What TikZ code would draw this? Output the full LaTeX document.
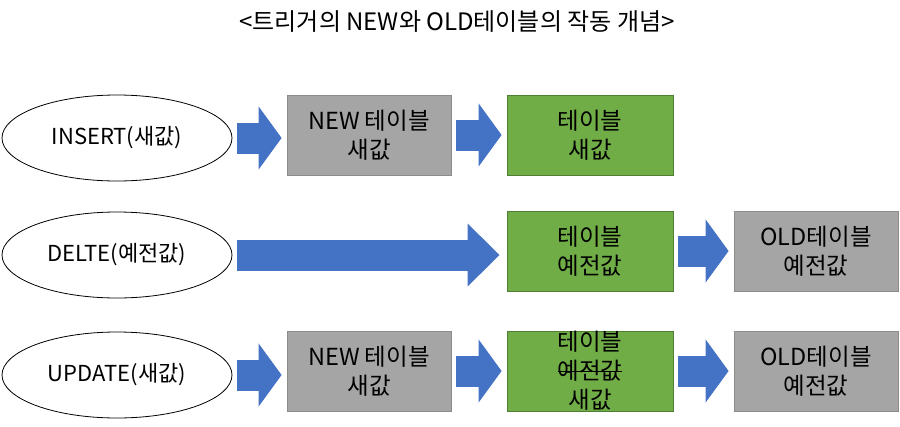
\documentclass[tikz,border=0pt]{standalone}
\usepackage{fontspec}
\setmainfont{Noto Sans CJK KR}
\usetikzlibrary{arrows.meta,shapes.geometric}
\definecolor{boxgray}{HTML}{A5A5A5}
\definecolor{linegray}{HTML}{8C8C8C}
\definecolor{boxgreen}{HTML}{70AD47}
\definecolor{linegreen}{HTML}{507E32}
\definecolor{arrowblue}{HTML}{4472C4}
\newcommand{\strikeword}[1]{\setbox0\hbox{#1}\rlap{\rule[0.32em]{\wd0}{0.9pt}}\box0}
\begin{document}
\begin{tikzpicture}[x=1pt, y={(0pt,-1pt)},
    event/.style={ellipse, draw=black, fill=white, thick, minimum width=230pt, minimum height=86pt, inner sep=0pt,
        font=\fontsize{22}{29}\selectfont},
    oldnew/.style={rectangle, draw=linegray, fill=boxgray, thick, minimum width=164pt, minimum height=80pt,
        inner sep=0pt, align=center, font=\fontsize{23.5}{29}\selectfont},
    table/.style={rectangle, draw=linegreen, fill=boxgreen, thick, minimum width=166pt, minimum height=80pt,
        inner sep=0pt, align=center, font=\fontsize{23.5}{29}\selectfont},
    blockarrow/.style={arrowblue, line width=31pt, shorten <=5pt, shorten >=5pt,
        -{Triangle[length=23pt, width=62pt]}}]
    \useasboundingbox (0, 0) rectangle (900, 426);
    \node[font=\fontsize{24}{28}\selectfont] (title) at (457, 22) {<트리거의 NEW와 OLD테이블의 작동 개념>};

    % INSERT
    \node[event] (ins) at (117, 138) {INSERT(새값)};
    \node[oldnew] (newA) at (369, 135) {NEW 테이블\\새값};
    \node[table] (tblA) at (590, 135) {테이블\\새값};
    \draw[blockarrow] (ins.east) -- (ins.east -| newA.west);
    \draw[blockarrow] (newA) -- (tblA);

    % DELETE
    \node[event] (del) at (117, 255) {DELTE(예전값)};
    \node[table] (tblB) at (590, 251) {테이블\\예전값};
    \node[oldnew] (oldB) at (816, 251) {OLD테이블\\예전값};
    \draw[blockarrow, shorten >=7pt, -{Triangle[length=32pt, width=61pt]}] (del.east) -- (del.east -| tblB.west);
    \draw[blockarrow] (tblB) -- (oldB);

    % UPDATE
    \node[event] (upd) at (117, 375) {UPDATE(새값)};
    \node[oldnew] (newC) at (369, 371) {NEW 테이블\\새값};
    \node[table] (tblC) at (590, 371) {테이블\\\strikeword{예전값}\\새값};
    \node[oldnew] (oldC) at (816, 371) {OLD테이블\\예전값};
    \draw[blockarrow] (upd.east) -- (upd.east -| newC.west);
    \draw[blockarrow] (newC) -- (tblC);
    \draw[blockarrow] (tblC) -- (oldC);
\end{tikzpicture}
\end{document}
